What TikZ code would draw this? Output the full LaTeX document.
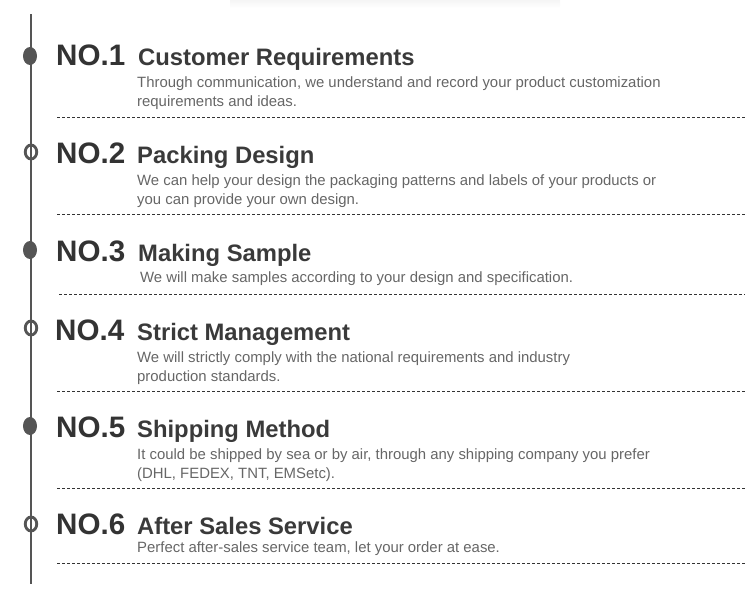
\documentclass[tikz,border=0pt]{standalone}
\usepackage{fontspec}
\setmainfont{Liberation Sans}
\usetikzlibrary{shapes.geometric}
\definecolor{numc}{HTML}{333333}
\definecolor{titc}{HTML}{3A3A3A}
\definecolor{bodyc}{HTML}{666666}
\definecolor{linec}{HTML}{555555}
\definecolor{dashc}{HTML}{333333}
\tikzset{
  num/.style={anchor=base west, inner sep=0, text=numc, font=\fontsize{29.6}{29.6}\selectfont\bfseries},
  tit/.style={anchor=base west, inner sep=0, text=titc, font=\fontsize{23.8}{23.8}\selectfont\bfseries},
  body/.style={anchor=base west, inner sep=0, text=bodyc, font=\fontsize{14.9}{19}\selectfont},
  dotfull/.style={ellipse, fill=linec, minimum width=14, minimum height=18, inner sep=0},
  dotring/.style={ellipse, draw=linec, line width=2.8, minimum width=11.5, minimum height=14, inner sep=0},
  sep/.style={draw=dashc, line width=0.8, dash pattern=on 3pt off 2pt},
  vline/.style={draw=linec, line width=1.3}
}
\begin{document}
\begin{tikzpicture}[x=1pt,y=-1pt]
\useasboundingbox (0,0) rectangle (750,603);
% faint top shadow
\fill[top color=black!4, bottom color=white] (230,0) rectangle (560,8);
% timeline
\coordinate (ltop) at (31,14);
\coordinate (lbot) at (31,584);
\draw[vline] (ltop) -- (lbot);

% item 1
\node[dotfull] (d1) at (30,56) {};
\node[num] (n1) at (56,65) {NO.1};
\node[tit] (t1) at (138,65) {Customer Requirements};
\node[body] (b1a) at (137,87) {Through communication, we understand and record your product customization};
\node[body] (b1b) at (137,106) {requirements and ideas.};
\coordinate (s1a) at (57,117); \coordinate (s1b) at (745,117);
\draw[sep] (s1a) -- (s1b);

% item 2
\node[dotring] (d2) at (31,152) {};
\node[num] (n2) at (56,163) {NO.2};
\node[tit] (t2) at (137,163) {Packing Design};
\node[body] (b2a) at (137,185) {We can help your design the packaging patterns and labels of your products or};
\node[body] (b2b) at (137,204) {you can provide your own design.};
\coordinate (s2a) at (57,214); \coordinate (s2b) at (745,214);
\draw[sep] (s2a) -- (s2b);

% item 3
\node[dotfull] (d3) at (30,250) {};
\node[num] (n3) at (56,261) {NO.3};
\node[tit] (t3) at (138,261) {Making Sample};
\node[body] (b3a) at (140,282) {We will make samples according to your design and specification.};
\coordinate (s3a) at (59,294); \coordinate (s3b) at (745,294);
\draw[sep] (s3a) -- (s3b);

% item 4
\node[dotring] (d4) at (31,328) {};
\node[num] (n4) at (55,340) {NO.4};
\node[tit] (t4) at (137,340) {Strict Management};
\node[body] (b4a) at (137,362) {We will strictly comply with the national requirements and industry};
\node[body] (b4b) at (137,381) {production standards.};
\coordinate (s4a) at (57,391); \coordinate (s4b) at (745,391);
\draw[sep] (s4a) -- (s4b);

% item 5
\node[dotfull] (d5) at (30,426) {};
\node[num] (n5) at (56,437) {NO.5};
\node[tit] (t5) at (137,437) {Shipping Method};
\node[body] (b5a) at (137,459) {It could be shipped by sea or by air, through any shipping company you prefer};
\node[body] (b5b) at (137,478) {(DHL, FEDEX, TNT, EMSetc).};
\coordinate (s5a) at (57,488); \coordinate (s5b) at (745,488);
\draw[sep] (s5a) -- (s5b);

% item 6
\node[dotring] (d6) at (31,524) {};
\node[num] (n6) at (56,534) {NO.6};
\node[tit] (t6) at (137,534) {After Sales Service};
\node[body] (b6a) at (137,552) {Perfect after-sales service team, let your order at ease.};
\coordinate (s6a) at (57,563); \coordinate (s6b) at (745,563);
\draw[sep] (s6a) -- (s6b);
\end{tikzpicture}
\end{document}
